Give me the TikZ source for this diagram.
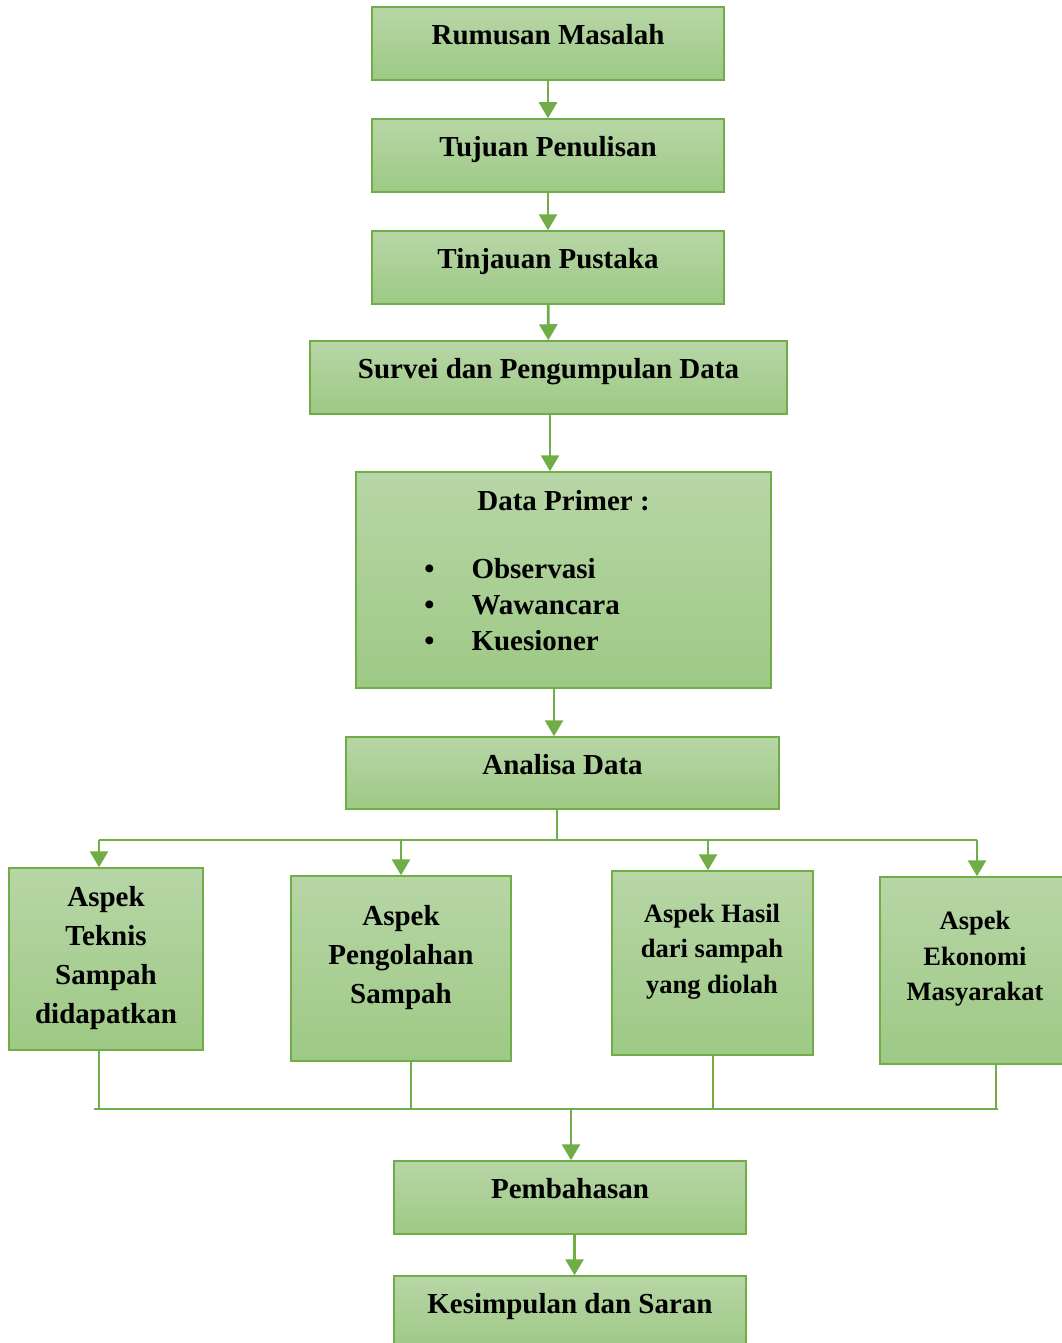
\documentclass[tikz,border=0pt]{standalone}
\usepackage{fontspec}
\setmainfont{Liberation Serif}
\usetikzlibrary{arrows.meta}
\definecolor{boxtop}{RGB}{183,214,166}
\definecolor{boxbot}{RGB}{158,201,133}
\definecolor{boxline}{RGB}{112,173,71}
\tikzset{
  box/.style={draw=boxline, line width=0.75pt, top color=boxtop, bottom color=boxbot,
    inner sep=0pt, font=\fontsize{14.5}{19.5}\selectfont\bfseries, text height=9pt, text depth=8pt},
  flow/.style={draw=boxline, line width=1.4pt, -{Triangle[width=9pt,length=8pt]}},
  bus/.style={draw=boxline, line width=0.75pt},
  aspek/.style={font=\fontsize{14.5}{19.5}\selectfont\bfseries, align=center, inner sep=0pt},
  aspekkecil/.style={font=\fontsize{13.25}{17.75}\selectfont\bfseries, align=center, inner sep=0pt}
}

\begin{document}
\begin{tikzpicture}[x=0.5pt,y=-0.5pt]
\useasboundingbox (0,0) rectangle (1061,1343);
% alur atas
\node[box, minimum width=176pt, minimum height=36.5pt] (rumusan) at (548,43.5) {Rumusan Masalah};
\node[box, minimum width=176pt, minimum height=36.5pt] (tujuan) at (548,155.5) {Tujuan Penulisan};
\node[box, minimum width=176pt, minimum height=36.5pt] (tinjauan) at (548,267.5) {Tinjauan Pustaka};
\node[box, minimum width=238.5pt, minimum height=36.5pt] (survei) at (548.5,377.5) {Survei dan Pengumpulan Data};
\node[box, minimum width=207.5pt, minimum height=108pt] (primer) at (563.5,580) {};
\node[aspek] (primerjudul) at (563.5,500.5) {Data Primer :};
\node[aspek, anchor=west, font=\fontsize{14.5}{18}\selectfont\bfseries] (primerdaftar) at (424,607) {\begin{tabular}{@{}l@{\hspace{18.5pt}}l@{}}
\textbullet & Observasi\\ \textbullet & Wawancara\\ \textbullet & Kuesioner\end{tabular}};
\node[box, minimum width=216.5pt, minimum height=36pt] (analisa) at (562.5,773) {Analisa Data};

\draw[flow] (rumusan) -- (tujuan);
\draw[flow] (tujuan) -- (tinjauan);
\draw[flow] (tinjauan) -- (survei);
\draw[flow] ([xshift=0.75pt]survei.south) -- ([xshift=0.75pt]survei.south |- primer.north);
\draw[flow] ([xshift=-4.75pt]primer.south) -- ([xshift=-4.75pt]primer.south |- analisa.north);

% empat aspek
\node[box, minimum width=97pt, minimum height=91pt] (teknis) at (106,959) {};
\node[aspek] (teknisteks) at (106,958.5) {Aspek\\Teknis\\Sampah\\didapatkan};
\node[box, minimum width=110pt, minimum height=92.5pt] (pengolahan) at (401,968.5) {};
\node[aspek] (pengolahanteks) at (401,957.5) {Aspek\\Pengolahan\\Sampah};
\node[box, minimum width=100.5pt, minimum height=92pt] (hasil) at (712.5,963) {};
\node[aspekkecil] (hasilteks) at (712,951.5) {Aspek Hasil\\dari sampah\\yang diolah};
\node[box, minimum width=92pt, minimum height=93.5pt] (ekonomi) at (972,970.5) {};
\node[aspekkecil] (ekonomiteks) at (975,959) {Aspek\\Ekonomi\\Masyarakat};

\coordinate (busatas) at (557,840);
\coordinate (buskiri) at (99,840);
\coordinate (buskanan) at (977,840);
\coordinate (panahhasil) at (708,840);
\draw[bus] (analisa.south -| busatas) -- (busatas);
\draw[bus] (buskiri) -- (buskanan);
\draw[flow] (buskiri) -- (buskiri |- teknis.north);
\draw[flow] (pengolahan.north |- buskiri) -- (pengolahan.north);
\draw[flow] (panahhasil) -- (panahhasil |- hasil.north);
\draw[flow] (buskanan) -- (buskanan |- ekonomi.north);

% alur bawah
\node[box, minimum width=176pt, minimum height=36.5pt] (pembahasan) at (570,1197.5) {Pembahasan};
\node[box, minimum width=176pt, minimum height=36.5pt] (kesimpulan) at (570,1312.5) {Kesimpulan dan Saran};

\coordinate (busbawahkiri) at (94,1109);
\coordinate (busbawahkanan) at (998,1109);
\coordinate (turunpengolahan) at (411,1109);
\coordinate (turunhasil) at (713,1109);
\coordinate (turunekonomi) at (996,1109);
\coordinate (kumpul) at (571,1109);
\draw[bus] (busbawahkiri) -- (busbawahkanan);
\draw[bus] (teknis.south -| buskiri) -- (buskiri |- busbawahkiri);
\draw[bus] (turunpengolahan |- pengolahan.south) -- (turunpengolahan);
\draw[bus] (turunhasil |- hasil.south) -- (turunhasil);
\draw[bus] (turunekonomi |- ekonomi.south) -- (turunekonomi);
\draw[flow] (kumpul) -- (kumpul |- pembahasan.north);
\draw[flow] ([xshift=2.25pt]pembahasan.south) -- ([xshift=2.25pt]pembahasan.south |- kesimpulan.north);
\end{tikzpicture}
\end{document}
